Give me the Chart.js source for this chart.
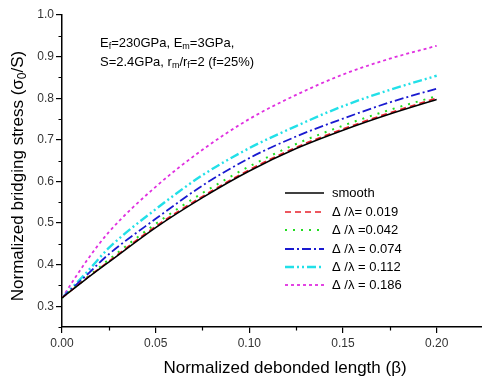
<!DOCTYPE html>
<html>
<head>
<meta charset="utf-8">
<script src="https://cdn.jsdelivr.net/npm/chart.js@4/dist/chart.umd.min.js"></script>
<style>
  html, body { margin: 0; padding: 0; background: #fff; }
  #wrap { width: 482px; height: 377px; }
</style>
</head>
<body>
<div id="wrap"><canvas id="chart" width="482" height="377"></canvas></div>
<script>
// normalized debonded length (beta)
const beta = [0, 0.0125, 0.025, 0.05, 0.075, 0.1, 0.125, 0.15, 0.175, 0.2];

// normalized bridging stress for each roughness
const smooth = [0.32, 0.364, 0.406, 0.489, 0.561, 0.625, 0.679, 0.723, 0.762, 0.797];
const d019   = [0.32, 0.365, 0.408, 0.492, 0.564, 0.628, 0.682, 0.726, 0.765, 0.800];
const d042   = [0.32, 0.366, 0.412, 0.498, 0.572, 0.636, 0.690, 0.734, 0.772, 0.805];
const d074   = [0.32, 0.372, 0.425, 0.510, 0.590, 0.656, 0.708, 0.751, 0.790, 0.823];
const d112   = [0.32, 0.378, 0.440, 0.533, 0.615, 0.680, 0.733, 0.781, 0.820, 0.854];
const d186   = [0.32, 0.405, 0.478, 0.587, 0.676, 0.750, 0.808, 0.857, 0.895, 0.926];

const legendLabels = ['smooth', 'Δ /λ= 0.019', 'Δ /λ =0.042', 'Δ /λ = 0.074', 'Δ /λ = 0.112', 'Δ /λ = 0.186'];

const xMajor = [0, 0.05, 0.1, 0.15, 0.2];
const xMinor = [0.025, 0.075, 0.125, 0.175, 0.225];
const yMajor = [0.3, 0.4, 0.5, 0.6, 0.7, 0.8, 0.9, 1.0];
const yMinor = [0.25, 0.35, 0.45, 0.55, 0.65, 0.75, 0.85, 0.95];

const FONT = '"Liberation Sans", Arial, sans-serif';

function pts(ys) {
    return ys.map((y, i) => ({ x: beta[i], y: y }));
}

function series(label, ys, color, dash, width) {
    return {
        label: label,
        data: pts(ys),
        borderColor: color,
        borderDash: dash,
        borderWidth: width,
        borderCapStyle: 'butt',
        pointRadius: 0,
        fill: false,
        cubicInterpolationMode: 'monotone'
    };
}

// draws text with subscripts: parts = [[text, isSub], ...]
function drawRich(ctx, parts, x, y, size) {
    let cx = x;
    parts.forEach(p => {
        const sub = p[1];
        ctx.font = (sub ? Math.round(size * 0.7) : size) + 'px ' + FONT;
        ctx.fillText(p[0], cx, sub ? y + size * 0.25 : y);
        cx += ctx.measureText(p[0]).width;
    });
    return cx - x;
}

function richWidth(ctx, parts, size) {
    let w = 0;
    parts.forEach(p => {
        ctx.font = (p[1] ? Math.round(size * 0.7) : size) + 'px ' + FONT;
        w += ctx.measureText(p[0]).width;
    });
    return w;
}

const extras = {
    id: 'extras',
    afterDraw(chart) {
        const ctx = chart.ctx;
        const xs = chart.scales.x, ys = chart.scales.y;
        const area = chart.chartArea;
        ctx.save();

        // minor ticks
        ctx.strokeStyle = '#000';
        ctx.lineWidth = 1.2;
        ctx.beginPath();
        xMinor.forEach(v => {
            const px = Math.round(xs.getPixelForValue(v)) + 0.5;
            if (px > area.right) return;
            ctx.moveTo(px, area.bottom);
            ctx.lineTo(px, area.bottom + 3.5);
        });
        yMinor.forEach(v => {
            const py = Math.round(ys.getPixelForValue(v)) + 0.5;
            ctx.moveTo(area.left, py);
            ctx.lineTo(area.left - 3.5, py);
        });
        ctx.stroke();

        ctx.fillStyle = '#000';
        ctx.textBaseline = 'middle';
        ctx.textAlign = 'left';

        // annotation
        drawRich(ctx, [['E', false], ['f', true], ['=230GPa, E', false], ['m', true], ['=3GPa,', false]], 100, 43, 13);
        drawRich(ctx, [['S=2.4GPa, r', false], ['m', true], ['/r', false], ['f', true], ['=2 (f=25%)', false]], 100, 62, 13);

        // axis titles
        ctx.font = '17px ' + FONT;
        ctx.textAlign = 'center';
        ctx.fillText('Normalized debonded length (β)', 285, 368);

        const yParts = [['Normalized bridging stress (σ', false], ['0', true], ['/S)', false]];
        const w = richWidth(ctx, yParts, 17);
        ctx.translate(18, 176);
        ctx.rotate(-Math.PI / 2);
        ctx.textAlign = 'left';
        drawRich(ctx, yParts, -w / 2, 0, 17);
        ctx.setTransform(1, 0, 0, 1, 0, 0);

        // legend
        const rowY = [193, 212, 230, 249, 267, 285];
        chart.data.datasets.forEach((ds, i) => {
            const y = rowY[i];
            ctx.strokeStyle = ds.borderColor;
            ctx.lineWidth = ds.borderWidth;
            ctx.setLineDash(ds.borderDash);
            ctx.beginPath();
            ctx.moveTo(285, y);
            ctx.lineTo(324, y);
            ctx.stroke();
            ctx.setLineDash([]);
            ctx.fillStyle = '#000';
            ctx.font = '13px ' + FONT;
            ctx.textAlign = 'left';
            ctx.fillText(legendLabels[i], 332, y);
        });

        ctx.restore();
    }
};

new Chart(document.getElementById('chart'), {
    type: 'line',
    data: {
        datasets: [
            series('smooth', smooth, '#000000', [], 1.5),
            series('0.019', d019, '#e8202a', [6, 4], 1.6),
            series('0.042', d042, '#22dd22', [2, 6], 2),
            series('0.074', d074, '#1a1ad0', [9, 3, 2, 3], 1.8),
            series('0.112', d112, '#22e0e8', [9, 3, 2, 3, 2, 3], 2.4),
            series('0.186', d186, '#e030e0', [3, 3], 1.8)
        ]
    },
    options: {
        responsive: false,
        animation: false,
        layout: { padding: { top: 15, right: 0, left: 0, bottom: 0 } },
        plugins: {
            legend: { display: false },
            tooltip: { enabled: false }
        },
        scales: {
            x: {
                type: 'linear',
                min: 0,
                max: 0.2242,
                afterFit: s => { s.height = 50; },
                afterBuildTicks: s => { s.ticks = xMajor.map(v => ({ value: v })); },
                border: { display: true, color: '#000', width: 1.5 },
                grid: { display: true, drawOnChartArea: false, drawTicks: true, tickLength: 6, color: '#000', lineWidth: 1.2 },
                ticks: {
                    padding: 3,
                    color: '#333',
                    font: { family: FONT, size: 12 },
                    maxRotation: 0,
                    callback: v => v.toFixed(2)
                }
            },
            y: {
                type: 'linear',
                min: 0.25,
                max: 1.0,
                afterFit: s => { s.width = 62; },
                afterBuildTicks: s => { s.ticks = yMajor.map(v => ({ value: v })); },
                border: { display: true, color: '#000', width: 1.5 },
                grid: { display: true, drawOnChartArea: false, drawTicks: true, tickLength: 6, color: '#000', lineWidth: 1.2 },
                ticks: {
                    padding: 2,
                    color: '#333',
                    font: { family: FONT, size: 12 },
                    callback: v => v.toFixed(1)
                }
            }
        }
    },
    plugins: [extras]
});
</script>
</body>
</html>
